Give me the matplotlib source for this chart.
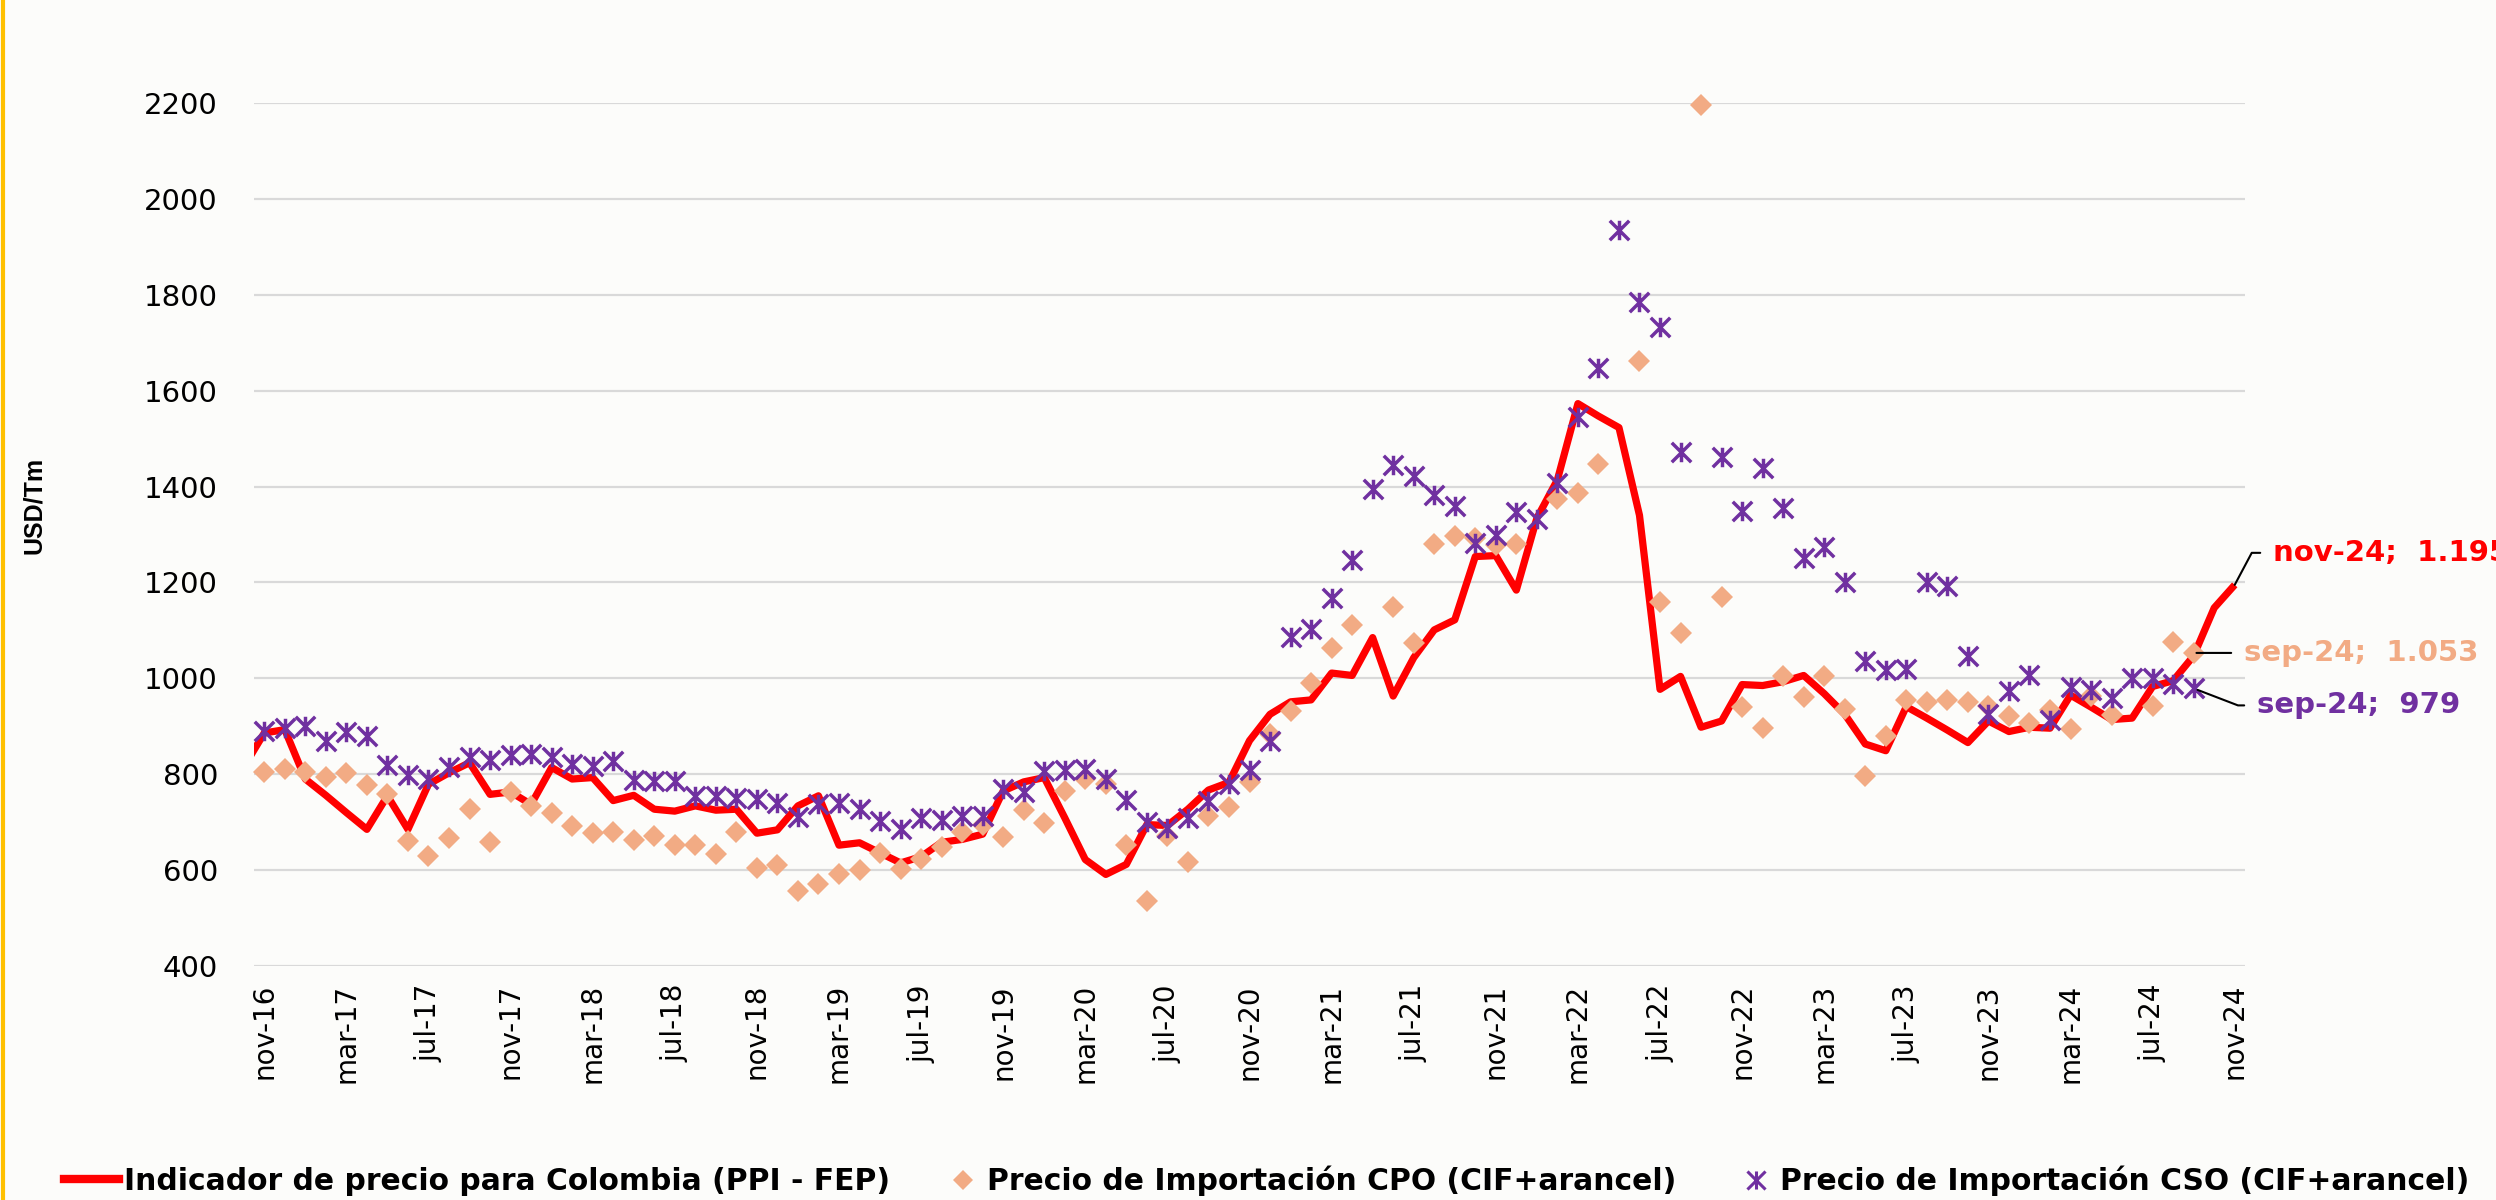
import numpy as np
import matplotlib
matplotlib.use("Agg")
import matplotlib.pyplot as plt
from matplotlib.path import Path
from matplotlib.lines import Line2D
from matplotlib import font_manager

nan = np.nan

# ---------------- data ----------------
# PPI-FEP indicator: monthly, oct-16 .. nov-24 (first point lies left of the plot edge)
ppi_fep = [815,
           886, 893, 790, 756, 720, 685, 755, 685, 779, 803, 824, 758,
           763, 737, 814, 790, 793, 745, 756, 727, 723, 734, 725, 727,
           677, 684, 734, 755, 652, 657, 636, 615, 628, 658, 664, 675,
           765, 784, 793, 709, 622, 591, 612, 695, 693, 727, 767, 783,
           870, 925, 951, 955, 1011, 1006, 1085, 963, 1043, 1101, 1122, 1254,
           1256, 1184, 1334, 1414, 1573, 1547, 1523, 1340, 977, 1004, 898, 911,
           987, 985, 993, 1006, 968, 925, 863, 849, 941, 917, 892, 866,
           911, 889, 898, 896, 965, 940, 914, 917, 983, 995, 1047, 1147,
           1195]

# CPO import price (CIF + tariff): nov-16 .. nov-24
cpo = [805, 810, 805, 795, 803, 777, 758, 660, 630, 668, 727, 658,
       762, 734, 720, 692, 678, 679, 663, 671, 652, 652, 633, 679,
       605, 610, 556, 571, 592, 600, 636, 603, 624, 649, 679, 695,
       670, 725, 699, 765, 790, 779, 652, 535, 671, 617, 713, 732,
       783, 884, 932, 990, 1063, 1111, nan, 1149, 1073, 1280, 1296, 1293,
       1278, 1280, nan, 1375, 1386, 1448, nan, 1661, 1160, 1095, 2195, 1170,
       941, 896, 1004, 961, 1004, 936, 797, 879, 954, 950, 954, 950,
       943, 922, 907, 933, 895, 964, 924, nan, 943, 1076, 1053, nan,
       nan]

# CSO import price (CIF + tariff): nov-16 .. nov-24
cso = [891, 896, 900, 870, 888, 880, 819, 798, 790, 816, 835, 829,
       840, 843, 835, 821, 817, 828, 788, 786, 786, 755, 755, 751,
       748, 739, 711, 737, 739, 727, 702, 686, 709, 704, 712, 713,
       770, 763, 807, 809, 810, 791, 746, 700, 688, 709, 744, 779,
       809, 870, 1086, 1103, 1168, 1247, 1394, 1446, 1422, 1382, 1360, 1282,
       1299, 1347, 1332, 1408, 1546, 1647, 1935, 1784, 1733, 1472, nan, 1461,
       1349, 1439, 1356, 1251, 1273, 1200, 1036, 1017, 1019, 1200, 1193, 1046,
       926, 973, 1007, 914, 981, 976, 958, 1000, 1000, 988, 979, nan,
       nan]

tick_labels = ["nov-16", "mar-17", "jul-17", "nov-17", "mar-18", "jul-18",
               "nov-18", "mar-19", "jul-19", "nov-19", "mar-20", "jul-20",
               "nov-20", "mar-21", "jul-21", "nov-21", "mar-22", "jul-22",
               "nov-22", "mar-23", "jul-23", "nov-23", "mar-24", "jul-24",
               "nov-24"]

y_ticks = [400, 600, 800, 1000, 1200, 1400, 1600, 1800, 2000, 2200]

series_names = ["Indicador de precio para Colombia (PPI - FEP)",
                "Precio de Importación CPO (CIF+arancel)",
                "Precio de Importación CSO (CIF+arancel)"]

label_texts = ["nov-24;  1.195", "sep-24;  1.053", "sep-24;  979"]
y_title = "USD/Tm"

# ---------------- style ----------------
RED = "#FF0000"
ORANGE = "#F2AB84"
PURPLE = "#7030A0"
GRID = "#D9D9D9"
BG = "#FCFCFA"

def has_font(f):
    try:
        font_manager.findfont(font_manager.FontProperties(family=f),
                              fallback_to_default=False)
        return True
    except Exception:
        return False

if has_font("Liberation Sans Narrow"):
    title_font, title_size = "Liberation Sans Narrow", 20.5
else:
    title_font, title_size = "Liberation Sans", 18

star_path = Path([(-1, -1), (1, 1), (-1, 1), (1, -1), (0, -1), (0, 1)],
                 [Path.MOVETO, Path.LINETO] * 3)

W, H = 2496, 1200
fig = plt.figure(figsize=(W / 100, H / 100), dpi=100, facecolor=BG)
ax = fig.add_axes([254 / W, 1 - 966 / H, (2245 - 254) / W, (966 - 103) / H])
ax.set_facecolor("none")

ppi_x = np.arange(len(ppi_fep)) - 1
cpo_x = np.arange(len(cpo))
cso_x = np.arange(len(cso))

ax.plot(ppi_x, ppi_fep, color=RED, lw=5.2, solid_joinstyle="round",
        solid_capstyle="butt", zorder=3)
ax.plot(cpo_x, cpo, ls="none", marker="D", ms=11, mfc=ORANGE, mec=ORANGE,
        mew=0, zorder=4, clip_on=False)
ax.plot(cso_x, cso, ls="none", marker=star_path, ms=14, mfc="none",
        mec=PURPLE, mew=2.5, zorder=5, clip_on=False)

ax.set_xlim(-0.5, len(cpo) - 0.5)
ax.set_ylim(y_ticks[0], y_ticks[-1])
ax.set_xticks(np.arange(0, len(cpo), 4))
ax.set_xticklabels(tick_labels, rotation=90, fontsize=20,
                   family="DejaVu Sans", va="top", ha="center")
ax.set_yticks(y_ticks)
ax.set_yticklabels([str(v) for v in y_ticks], fontsize=21,
                   family="DejaVu Sans")
ax.tick_params(axis="both", length=0, colors="black")
ax.tick_params(axis="y", pad=26)
ax.tick_params(axis="x", pad=13)
for s in ax.spines.values():
    s.set_visible(False)
ax.grid(axis="y", color=GRID, lw=1.6, zorder=0)
ax.set_axisbelow(True)

# data labels with leader lines
common = dict(textcoords="offset pixels", ha="left", va="center",
              fontsize=21, fontweight="bold", family="DejaVu Sans",
              annotation_clip=False, zorder=6)
ax.annotate(label_texts[0], xy=(ppi_x[-1], ppi_fep[-1]), xytext=(38, 32),
            color=RED,
            arrowprops=dict(arrowstyle="-", color="black", lw=1.5,
                            shrinkA=7, shrinkB=0, relpos=(0, 0.5),
                            connectionstyle="angle,angleA=0,angleB=62,rad=0"),
            **common)
ax.annotate(label_texts[1], xy=(cpo_x[94], cpo[94]), xytext=(50, 0),
            color=ORANGE,
            arrowprops=dict(arrowstyle="-", color="black", lw=1.5,
                            shrinkA=7, shrinkB=2, relpos=(0, 0.5)),
            **common)
ax.annotate(label_texts[2], xy=(cso_x[94], cso[94]), xytext=(63, -17),
            color=PURPLE,
            arrowprops=dict(arrowstyle="-", color="black", lw=1.5,
                            shrinkA=7, shrinkB=3, relpos=(0, 0.5),
                            connectionstyle="angle,angleA=0,angleB=-21,rad=0"),
            **common)

# y-axis title
fig.text(34 / W, 1 - 505 / H, y_title, rotation=90, ha="center", va="center",
         fontsize=title_size, fontweight="bold", family=title_font)

# legend: three entries placed along the bottom
leg_prop = dict(family="DejaVu Sans", weight="bold", size=21.4)
handles = [Line2D([], [], color=RED, lw=6),
           Line2D([], [], ls="none", marker="D", ms=10, mfc=ORANGE, mec=ORANGE, mew=0),
           Line2D([], [], ls="none", marker=star_path, ms=13, mfc="none", mec=PURPLE, mew=2.2)]
starts = [64, 948, 1741]
hlen = [1.85, 1.0, 1.0]
hpad = [0.17, 0.3, 0.3]
for h, name, x0, hl, hp in zip(handles, series_names, starts, hlen, hpad):
    fig.legend([h], [name], loc="center left",
               bbox_to_anchor=(x0 / W, 1 - 1181 / H), frameon=False,
               borderpad=0, borderaxespad=0, handlelength=hl,
               handletextpad=hp, prop=leg_prop)

# gold stripe on the left edge
fig.add_artist(Line2D([3 / W, 3 / W], [0, 1], transform=fig.transFigure,
                      color="#FFC000", lw=3))

fig.savefig("out.png", dpi=100, facecolor=BG)
